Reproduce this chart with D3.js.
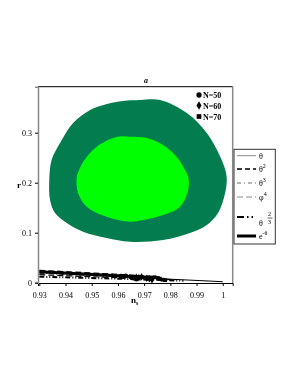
<!DOCTYPE html>
<html>
<head>
<meta charset="utf-8">
<script src="https://cdn.jsdelivr.net/npm/d3@7"></script>
<style>
body { margin: 0; background: #fff; }
svg { will-change: transform; transform: translateZ(0); }
text { font-family: "Liberation Serif", "DejaVu Serif", serif; fill: #000; }
</style>
</head>
<body>
<script>
// contour regions (ns, r)
var outer = [[0.9619,0.3634],[0.9684,0.3654],[0.9761,0.3654],[0.9863,0.3394],[0.9939,0.2994],
  [0.9996,0.2454],[1.0015,0.2120],[1.0009,0.1794],[0.9982,0.1394],[0.9939,0.1154],
  [0.9875,0.0994],[0.9772,0.0854],[0.9646,0.0820],[0.9557,0.0894],[0.9467,0.1020],
  [0.9405,0.1194],[0.9360,0.1394],[0.9341,0.1654],[0.9338,0.2054],[0.9347,0.2454],
  [0.9379,0.2794],[0.9429,0.3194],[0.9494,0.3454],[0.9558,0.3574]];
var inner = [[0.9646,0.2920],[0.9710,0.2894],[0.9772,0.2754],[0.9824,0.2520],[0.9856,0.2254],
  [0.9868,0.2120],[0.9868,0.1854],[0.9837,0.1520],[0.9772,0.1354],[0.9696,0.1254],
  [0.9646,0.1220],[0.9557,0.1320],[0.9481,0.1520],[0.9448,0.1794],[0.9443,0.2120],
  [0.9452,0.2254],[0.9467,0.2414],[0.9519,0.2720],[0.9595,0.2914]];

// model predictions
var theta1 = [[0.93,0.021],[0.96,0.013],[0.98,0.007],[1.0,0.002]];
var theta2 = [[0.93,0.024],[0.96,0.016],[0.976,0.011]];
var theta3 = [[0.93,0.019],[0.96,0.012],[0.978,0.008]];
var phi4 = [[0.93,0.016],[0.96,0.010],[0.982,0.006]];
var theta23 = [[0.93,0.012],[0.96,0.008],[0.985,0.004]];
var expth = [[0.93,0.022],[0.96,0.014],[0.975,0.010]];
// markers at N=50,60,70 for each model
var mk50 = [[0.962,0.012],[0.963,0.014],[0.965,0.011],[0.966,0.009],[0.967,0.007],[0.961,0.013]];
var mk60 = [[0.968,0.010],[0.969,0.012],[0.971,0.009],[0.972,0.008],[0.973,0.006],[0.967,0.011]];
var mk70 = [[0.973,0.009],[0.974,0.011],[0.976,0.008],[0.977,0.006],[0.978,0.005],[0.972,0.010]];

var xTicks = [0.93,0.94,0.95,0.96,0.97,0.98,0.99,1];
var yTicks = [0,0.1,0.2,0.3];

var w = 298, h = 385;
var svg = d3.select("body").append("svg").attr("width", w).attr("height", h);

var x = d3.scaleLinear().domain([0.9295,1.0038]).range([38,232.7]);
var y = d3.scaleLinear().domain([0,0.392]).range([282.7,86.7]);

var area = d3.line().x(function(d){return x(d[0]);}).y(function(d){return y(d[1]);})
  .curve(d3.curveCatmullRomClosed);
svg.append("path").attr("d", area(outer)).attr("fill", "#037c4f");
svg.append("path").attr("d", area(inner)).attr("fill", "#00ff00");

var line = d3.line().x(function(d){return x(d[0]);}).y(function(d){return y(d[1]);});
var styles = [
  {data: theta1, color: "#000", width: 1, dash: null},
  {data: theta2, color: "#000", width: 2, dash: "6,3"},
  {data: theta3, color: "#000", width: 1, dash: "5,2,1,2"},
  {data: phi4, color: "#000", width: 1.2, dash: "6,3"},
  {data: theta23, color: "#000", width: 2, dash: "5,2,1,2,1,2"},
  {data: expth, color: "#000", width: 3, dash: null}
];
styles.forEach(function(s){
  svg.append("path").attr("d", line(s.data)).attr("fill", "none")
    .attr("stroke", s.color).attr("stroke-width", s.width)
    .attr("stroke-dasharray", s.dash);
});
svg.selectAll(".m50").data(mk50).enter().append("path")
  .attr("d", d3.symbol(d3.symbolCircle, 16))
  .attr("transform", function(d){return "translate(" + x(d[0]) + "," + y(d[1]) + ")";});
svg.selectAll(".m60").data(mk60).enter().append("path")
  .attr("d", d3.symbol(d3.symbolDiamond, 16))
  .attr("transform", function(d){return "translate(" + x(d[0]) + "," + y(d[1]) + ")";});
svg.selectAll(".m70").data(mk70).enter().append("path")
  .attr("d", d3.symbol(d3.symbolSquare, 14))
  .attr("transform", function(d){return "translate(" + x(d[0]) + "," + y(d[1]) + ")";});

// frame
svg.append("line").attr("x1",38).attr("x2",232.7).attr("y1",86.7).attr("y2",86.7).attr("stroke","#000");
svg.append("line").attr("x1",232.7).attr("x2",232.7).attr("y1",86.7).attr("y2",283).attr("stroke","#888").attr("stroke-width",1.5);

var xAxis = svg.append("g").attr("transform","translate(0,283)")
  .call(d3.axisBottom(x).tickValues(xTicks).tickSize(3).tickFormat(d3.format("")));
xAxis.select(".domain").attr("stroke","#000");
xAxis.selectAll("text").attr("font-size", 8).attr("font-family","Liberation Serif").attr("dy","1.1em").attr("fill","#000");

var yAxis = svg.append("g").attr("transform","translate(38,0)")
  .call(d3.axisLeft(y).tickValues(yTicks).tickSize(3).tickFormat(d3.format("")));
yAxis.select(".domain").attr("stroke","#888").attr("stroke-width",1.5);
yAxis.selectAll("text").attr("font-size", 8).attr("font-family","Liberation Serif").attr("fill","#000");

svg.append("text").attr("x",146).attr("y",83).attr("font-size",8).attr("font-weight","bold")
  .attr("font-style","italic").attr("text-anchor","middle").text("a");
svg.append("text").attr("x",17).attr("y",188).attr("font-size",9).attr("font-weight","bold").text("r");
var ns = svg.append("text").attr("x",131).attr("y",303).attr("font-size",9).attr("font-weight","bold");
ns.append("tspan").text("n");
ns.append("tspan").attr("font-size",6).attr("dy",2).text("s");

// N legend
var nLeg = [["N=50", d3.symbolCircle, 95],["N=60", d3.symbolDiamond, 105.5],["N=70", d3.symbolSquare, 116.5]];
nLeg.forEach(function(n){
  svg.append("path").attr("d", d3.symbol(n[1], 22)).attr("transform","translate(199," + n[2] + ")");
  svg.append("text").attr("x",203).attr("y",n[2]+3).attr("font-size",8).attr("font-weight","bold").text(n[0]);
});

// model legend
svg.append("rect").attr("x",234).attr("y",149.3).attr("width",41.3).attr("height",94.7)
  .attr("fill","#fff").attr("stroke","#333").attr("stroke-width",1);
var legRows = [
  {y:155.7, color:"#888", width:1, dash:null},
  {y:169, color:"#000", width:1.5, dash:"5,3"},
  {y:183, color:"#444", width:0.8, dash:"4,3,1,3"},
  {y:197, color:"#888", width:1, dash:"6,3"},
  {y:217, color:"#000", width:1.8, dash:"7,3,1.5,3,1.5,3"},
  {y:236, color:"#000", width:3, dash:null}
];
legRows.forEach(function(r){
  svg.append("line").attr("x1",237).attr("x2",256).attr("y1",r.y).attr("y2",r.y)
    .attr("stroke",r.color).attr("stroke-width",r.width).attr("stroke-dasharray",r.dash);
});
function supLabel(yy, base, sup){
  var t = svg.append("text").attr("x",259).attr("y",yy+3).attr("font-size",8);
  t.append("tspan").text(base);
  if (sup) t.append("tspan").attr("font-size",6).attr("dy",-4).text(sup);
}
supLabel(155.7, "\u03b8", null);
supLabel(169, "\u03b8", "2");
supLabel(183, "\u03b8", "3");
supLabel(197, "\u03c6", "4");
supLabel(235.5, "e", "-\u03b8");
svg.append("text").attr("x",259).attr("y",226).attr("font-size",8).text("\u03b8");
svg.append("text").attr("x",268).attr("y",216).attr("font-size",6).text("2");
svg.append("line").attr("x1",267.5).attr("x2",272.5).attr("y1",218).attr("y2",218).attr("stroke","#000").attr("stroke-width",0.6);
svg.append("text").attr("x",268).attr("y",223.5).attr("font-size",6).text("3");
</script>
</body>
</html>
